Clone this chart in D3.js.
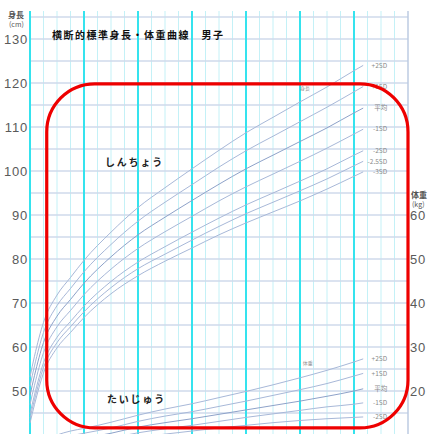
<!DOCTYPE html>
<html>
<head>
<meta charset="utf-8">
<script src="https://cdn.jsdelivr.net/npm/d3@7/dist/d3.min.js"></script>
<style>
  body { margin: 0; background: #fff; }
  svg { display: block; }
</style>
</head>
<body>
<div id="chart"></div>
<script>
// age in years
var heightAges = [0, 0.083, 0.25, 0.5, 0.75, 1, 1.5, 2, 2.5, 3, 3.5, 4, 4.5, 5, 5.5, 6, 6.17];
var heightP2  = [53.2, 57.9, 65.6, 71.8, 75.8, 79.7, 86.1, 91.7, 96.2, 100.5, 104.7, 108.7, 112.2, 115.7, 119.1, 122.8, 124.0];
var heightP1  = [51.1, 55.7, 63.3, 69.4, 73.3, 77.1, 83.3, 88.6, 92.9, 96.9, 100.9, 104.6, 107.9, 111.2, 114.5, 118.0, 119.2];
var heightAvg = [49.0, 53.5, 61.0, 67.0, 70.8, 74.5, 80.5, 85.5, 89.5, 93.3, 97.0, 100.5, 103.6, 106.7, 109.8, 113.2, 114.3];
var heightM1  = [46.9, 51.3, 58.7, 64.6, 68.3, 71.9, 77.7, 82.4, 86.2, 89.7, 93.2, 96.4, 99.3, 102.2, 105.2, 108.4, 109.5];
var heightM2  = [44.8, 49.1, 56.4, 62.2, 65.8, 69.3, 74.9, 79.3, 82.8, 86.1, 89.3, 92.3, 95.0, 97.7, 100.5, 103.6, 104.6];
var heightM25 = [43.8, 48.0, 55.3, 61.0, 64.6, 68.0, 73.5, 77.8, 81.1, 84.3, 87.4, 90.3, 92.9, 95.5, 98.2, 101.2, 102.2];
var heightM3  = [42.7, 46.9, 54.1, 59.8, 63.3, 66.7, 72.1, 76.2, 79.5, 82.5, 85.5, 88.2, 90.7, 93.2, 95.9, 98.8, 99.8];

var weightAges = [0.25, 0.5, 0.75, 1, 1.5, 2, 2.5, 3, 3.5, 4, 4.5, 5, 5.5, 6, 6.17];
var weightP2  = [8.6, 10.0, 10.9, 11.5, 12.9, 14.5, 15.9, 17.1, 18.5, 19.9, 21.4, 23.0, 24.7, 26.6, 27.3];
var weightP1  = [7.7, 9.0, 9.8, 10.4, 11.6, 13.1, 14.3, 15.3, 16.5, 17.7, 19.0, 20.3, 21.7, 23.4, 24.0];
var weightAvg = [6.7, 8.0, 8.8, 9.3, 10.4, 11.8, 12.8, 13.7, 14.7, 15.7, 16.7, 17.7, 18.8, 20.0, 20.5];
var weightM1  = [5.8, 7.0, 7.8, 8.3, 9.3, 10.5, 11.4, 12.2, 13.1, 14.0, 14.8, 15.6, 16.4, 17.0, 17.3];
var weightM2  = [4.9, 6.1, 6.9, 7.4, 8.3, 9.4, 10.2, 10.9, 11.6, 12.2, 12.8, 13.3, 13.7, 14.0, 14.1];

var heightSeries = [
  { name: '+2SD', values: heightP2 },
  { name: '+1SD', values: heightP1 },
  { name: '平均', values: heightAvg, mean: true },
  { name: '-1SD', values: heightM1 },
  { name: '-2SD', values: heightM2 },
  { name: '-2.5SD', values: heightM25 },
  { name: '-3SD', values: heightM3 }
];
var weightSeries = [
  { name: '+2SD', values: weightP2 },
  { name: '+1SD', values: weightP1 },
  { name: '平均', values: weightAvg, mean: true },
  { name: '-1SD', values: weightM1 },
  { name: '-2SD', values: weightM2 }
];

var heightTicks = [50, 60, 70, 80, 90, 100, 110, 120, 130];
var weightTicks = [20, 30, 40, 50, 60];
var gridLevels = [40, 45, 50, 55, 60, 65, 70, 75, 80, 85, 90, 95, 100, 105, 110, 115, 120, 125, 130, 135];
var yearLines = [0, 1, 2, 3, 4, 5, 6];

var jp = '"Noto Sans CJK JP", sans-serif';

var svg = d3.select('#chart').append('svg')
  .attr('width', 440)
  .attr('height', 434);

var x = d3.scaleLinear().domain([0, 7]).range([30, 408]);
var yH = d3.scaleLinear().domain([40, 135]).range([435, 17]);
var yW = d3.scaleLinear().domain([10, 105]).range([435, 17]); // 体重 shares the grid, shifted by 30

var gridTop = 11, gridBottom = 434;

// minor verticals (quarter years)
svg.append('g').selectAll('line')
  .data(d3.range(0, 28).filter(function (i) { return i % 4 !== 0; }))
  .enter().append('line')
  .attr('x1', function (i) { return x(i / 4); })
  .attr('x2', function (i) { return x(i / 4); })
  .attr('y1', gridTop).attr('y2', gridBottom)
  .attr('stroke', '#c4f1f7')
  .attr('stroke-width', 1);

// horizontal grid every 5
svg.append('g').selectAll('line')
  .data(gridLevels)
  .enter().append('line')
  .attr('x1', x(0)).attr('x2', x(7))
  .attr('y1', function (d) { return yH(d); })
  .attr('y2', function (d) { return yH(d); })
  .attr('stroke', '#cfdaeb')
  .attr('stroke-width', 1.6);

// yearly verticals
svg.append('g').selectAll('line')
  .data(yearLines)
  .enter().append('line')
  .attr('x1', function (d) { return x(d); })
  .attr('x2', function (d) { return x(d); })
  .attr('y1', gridTop).attr('y2', gridBottom)
  .attr('stroke', '#35e3ee')
  .attr('stroke-width', 2);

// right border
svg.append('line')
  .attr('x1', x(7)).attr('x2', x(7))
  .attr('y1', gridTop).attr('y2', gridBottom)
  .attr('stroke', '#bccbe2')
  .attr('stroke-width', 1.5);

// curves
var drawCurves = function (series, ages, yScale) {
  var line = d3.line()
    .x(function (d, i) { return x(ages[i]); })
    .y(function (d) { return yScale(d); })
    .curve(d3.curveMonotoneX);

  svg.append('g').selectAll('path')
    .data(series)
    .enter().append('path')
    .attr('d', function (s) { return line(s.values); })
    .attr('fill', 'none')
    .attr('stroke', function (s) { return s.mean ? '#8ea2c9' : '#a8b8d8'; })
    .attr('stroke-width', 1);

  var lastAge = ages[ages.length - 1];
  svg.append('g').selectAll('text')
    .data(series)
    .enter().append('text')
    .attr('x', x(lastAge) + 24)
    .attr('y', function (s) { return yScale(s.values[s.values.length - 1]); })
    .attr('dy', '0.35em')
    .attr('text-anchor', 'end')
    .attr('font-family', jp)
    .attr('font-size', 6.5)
    .attr('fill', '#8a8a8a')
    .text(function (s) { return s.name; });
}; // drawCurves

drawCurves(heightSeries, heightAges, yH);
drawCurves(weightSeries, weightAges, yW);

// axes
var leftAxis = svg.append('g')
  .attr('transform', 'translate(' + x(0) + ',0)')
  .call(d3.axisLeft(yH).tickValues(heightTicks).tickSize(0).tickPadding(2));
var rightAxis = svg.append('g')
  .attr('transform', 'translate(' + x(7) + ',0)')
  .call(d3.axisRight(yW).tickValues(weightTicks).tickSize(0).tickPadding(2));

[leftAxis, rightAxis].forEach(function (ax) {
  ax.select('.domain').remove();
  ax.selectAll('text')
    .attr('font-family', '"Liberation Sans", sans-serif')
    .attr('font-size', 13)
    .attr('letter-spacing', 0.8)
    .attr('fill', '#5a5a5a');
});

// unit labels
var addText = function (tx, ty, str, size, weight, color, spacing, anchor) {
  svg.append('text')
    .attr('x', tx).attr('y', ty)
    .attr('font-family', jp)
    .attr('font-size', size)
    .attr('font-weight', weight || 'normal')
    .attr('fill', color || '#333')
    .attr('letter-spacing', spacing || 0)
    .attr('text-anchor', anchor || 'start')
    .text(str);
};

addText(8, 18, '身長', 8, 'bold', '#555');
addText(9, 27, '(cm)', 7, 'normal', '#555');
addText(411, 198, '体重', 8, 'bold', '#555');
addText(412, 207, '(kg)', 7, 'normal', '#555');

addText(52, 39, '横断的標準身長・体重曲線　男子', 10, 'bold', '#111', 1.5);
addText(105, 166, 'しんちょう', 10, 'bold', '#222', 1.8);
addText(107, 403, 'たいじゅう', 10, 'bold', '#222', 1.8);

addText(x(5.0), yH(118.3), '身長', 5, 'normal', '#999');
addText(x(5.05), yW(25.9), '体重', 5, 'normal', '#999');

// red frame
svg.append('rect')
  .attr('x', x(0.31)).attr('y', yH(119.8))
  .attr('width', x(7) - x(0.31))
  .attr('height', yH(41.6) - yH(119.8))
  .attr('rx', 48).attr('ry', 48)
  .attr('fill', 'none')
  .attr('stroke', '#ee0000')
  .attr('stroke-width', 3.2);
</script>
</body>
</html>
